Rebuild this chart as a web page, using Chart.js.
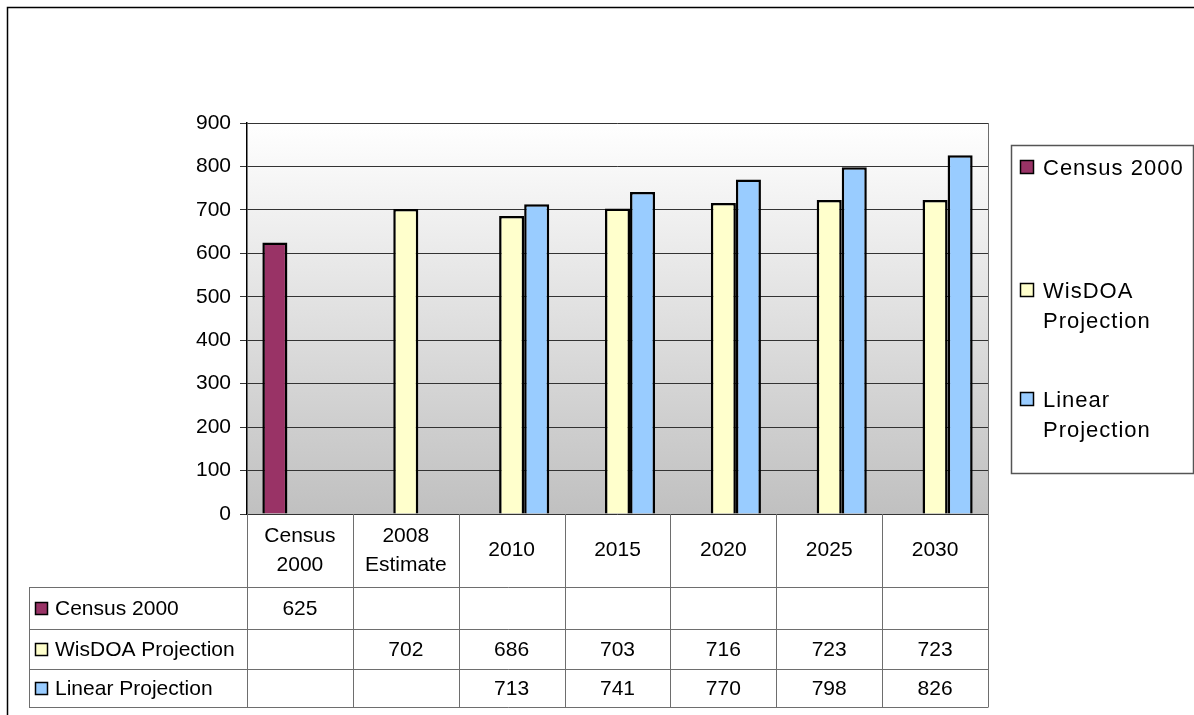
<!DOCTYPE html>
<html>
<head>
<meta charset="utf-8">
<script src="https://cdn.jsdelivr.net/npm/chart.js@4/dist/chart.umd.min.js"></script>
<style>
  html,body{margin:0;padding:0;background:#fff;}
  canvas{display:block;}
</style>
</head>
<body>
<canvas id="c" width="1194" height="715"></canvas>
<script>
const categories = [['Census','2000'], ['2008','Estimate'], '2010', '2015', '2020', '2025', '2030'];
const census2000 = [625, null, null, null, null, null, null];
const wisdoa = [null, 702, 686, 703, 716, 723, 723];
const linear = [null, null, 713, 741, 770, 798, 826];
const yTicks = [0, 100, 200, 300, 400, 500, 600, 700, 800, 900];

const FONT = "'Liberation Sans', Arial, sans-serif";
const $ = (id) => document.getElementById(id);

// plot background: white at top fading to grey at the axis
const bgPlugin = {
  id: 'bg',
  beforeDraw(chart){
    const {ctx, chartArea:a} = chart;
    const g = ctx.createLinearGradient(0, a.top, 0, a.bottom);
    g.addColorStop(0, '#ffffff'); g.addColorStop(1, '#c0c0c0');
    ctx.save(); ctx.fillStyle = g; ctx.fillRect(a.left, a.top, a.right-a.left, a.bottom-a.top); ctx.restore();
  }
};

function wrap(ctx, text, maxW){
  const words = text.split(' '); const lines = []; let cur = '';
  words.forEach(w => { const t = cur ? cur + ' ' + w : w; if(ctx.measureText(t).width > maxW && cur){ lines.push(cur); cur = w; } else cur = t; });
  if(cur) lines.push(cur);
  return lines;
}

function marker(ctx, x, y, s, color){
  ctx.fillStyle = color; ctx.fillRect(x, y, s, s);
  ctx.strokeStyle = '#000'; ctx.lineWidth = 1.5; ctx.strokeRect(x, y, s, s);
}

// data table under the plot + legend box + outer frame
const tablePlugin = {
  id: 'table',
  afterDraw(chart){
    const {ctx, chartArea:a} = chart;
    const xs = chart.scales.x;
    const n = categories.length, colW = (a.right - a.left) / n;
    const rows = [587, 629, 669, 707], labelLeft = 29;
    ctx.save();
    ctx.strokeStyle = '#6e6e6e'; ctx.lineWidth = 1;
    // plot right edge
    ctx.beginPath(); ctx.moveTo(a.right+0.5, a.top); ctx.lineTo(a.right+0.5, a.bottom); ctx.stroke();
    // horizontal lines
    rows.forEach(y => { ctx.beginPath(); ctx.moveTo(labelLeft, y+0.5); ctx.lineTo(a.right+0.5, y+0.5); ctx.stroke(); });
    // vertical lines
    ctx.beginPath(); ctx.moveTo(labelLeft+0.5, rows[0]); ctx.lineTo(labelLeft+0.5, rows[3]); ctx.stroke();
    for(let i=0;i<=n;i++){ const x = Math.round(a.left + i*colW)+0.5; ctx.beginPath(); ctx.moveTo(x, a.bottom); ctx.lineTo(x, rows[3]); ctx.stroke(); }

    ctx.fillStyle = '#000'; ctx.textAlign = 'center'; ctx.textBaseline = 'middle';
    ctx.font = '21px ' + FONT;
    const headMid = (a.bottom + rows[0]) / 2;
    categories.forEach((c, i) => {
      const cx = xs.getPixelForValue(i);
      const lines = Array.isArray(c) ? c : [c];
      lines.forEach((l, k) => ctx.fillText(l, cx, headMid + (k - (lines.length-1)/2) * 29));
    });
    chart.data.datasets.forEach((ds, r) => {
      const mid = (rows[r] + rows[r+1]) / 2 + 1;
      ds.data.forEach((v, i) => { if(v !== null) ctx.fillText(String(v), xs.getPixelForValue(i), mid); });
      marker(ctx, 35.5, mid - 6.5, 12, ds.backgroundColor);
      ctx.fillStyle = '#000'; ctx.textAlign = 'left';
      ctx.fillText(ds.label, 55, mid);
      ctx.textAlign = 'center';
    });

    // legend
    const box = {l: 1011, t: 145, r: 1193, b: 473};
    ctx.strokeStyle = '#555'; ctx.lineWidth = 1.5;
    ctx.strokeRect(box.l+0.5, box.t+0.5, box.r-box.l, box.b-box.t);
    ctx.font = '22px ' + FONT; ctx.letterSpacing = '1px';
    ctx.textAlign = 'left'; ctx.textBaseline = 'alphabetic';
    const firstBase = [175, 298, 407];
    chart.data.datasets.forEach((ds, r) => {
      const lines = wrap(ctx, ds.label, 152);
      marker(ctx, 1020.5, firstBase[r] - 14.5, 13, ds.backgroundColor);
      ctx.fillStyle = '#000';
      lines.forEach((l, k) => ctx.fillText(l, 1043, firstBase[r] + k*30));
    });
    ctx.letterSpacing = '0px';

    // outer frame
    ctx.strokeStyle = '#000'; ctx.lineWidth = 1.5;
    ctx.strokeRect(7.5, 7.5, 1300, 1000);
    ctx.restore();
  }
};

new Chart($('c'), {
  type: 'bar',
  data: {
    labels: categories,
    datasets: [
      {label: 'Census 2000', data: census2000, backgroundColor: '#993366'},
      {label: 'WisDOA Projection', data: wisdoa, backgroundColor: '#ffffcc'},
      {label: 'Linear Projection', data: linear, backgroundColor: '#99ccff'}
    ].map(d => ({...d, borderColor: '#000', borderWidth: 2.5, categoryPercentage: 0.71, barPercentage: 1}))
  },
  options: {
    responsive: false, animation: false, devicePixelRatio: 1,
    layout: {padding: {left: 0, right: 206, top: 123, bottom: 201}},
    plugins: {legend: {display: false}, tooltip: {enabled: false}},
    scales: {
      x: {display: false},
      y: {
        min: 0, max: 900,
        afterBuildTicks: s => { s.ticks = yTicks.map(v => ({value: v})); },
        afterFit: s => { s.width = 247; },
        ticks: {color: '#000', font: {family: FONT, size: 21}, padding: 9},
        grid: {color: '#333', tickLength: 7, tickColor: '#333'},
        border: {color: '#000', width: 1.5}
      }
    }
  },
  plugins: [bgPlugin, tablePlugin]
});
</script>
</body>
</html>
